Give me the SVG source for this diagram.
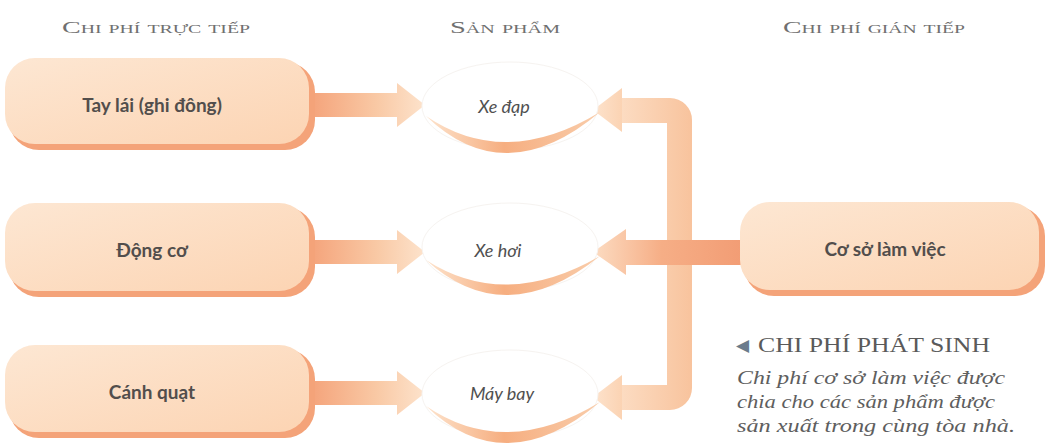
<svg xmlns="http://www.w3.org/2000/svg" width="1050" height="446" viewBox="0 0 1050 446">
<style>
.hdr{font-family:"Liberation Serif",serif;font-variant:small-caps;fill:#707070;font-size:17px;text-anchor:middle}
.btxt{font-family:Lato,"Open Sans",sans-serif;font-weight:700;fill:#524e4c;font-size:19px;text-anchor:middle}
.etxt{font-family:Lato,"Open Sans",sans-serif;font-style:italic;fill:#505050;font-size:18px;text-anchor:middle}
.shadow{fill:#f4a379}
.box{fill:url(#boxFill)}
.ell{fill:#fff;stroke:#f6f3f0;stroke-width:1}
.cres{fill:url(#cresGrad)}
.cap{font-family:"Liberation Serif",serif;fill:#5a5a5a;font-size:20px}
.capi{font-family:"Liberation Serif",serif;font-style:italic;fill:#5e5e5e;font-size:19px}
</style>
<defs>
<linearGradient id="boxFill" x1="0" y1="0" x2="1" y2="1">
<stop offset="0" stop-color="#fde7d3"/>
<stop offset="1" stop-color="#fcd4b3"/>
</linearGradient>
<linearGradient id="arrowGrad" x1="0" y1="0" x2="1" y2="0">
<stop offset="0" stop-color="#f4a077"/>
<stop offset="0.6" stop-color="#f9c9a5"/>
<stop offset="1" stop-color="#fde3cc"/>
</linearGradient>
<linearGradient id="vGrad" x1="0" y1="0" x2="1" y2="0">
<stop offset="0" stop-color="#fcdcc2"/>
<stop offset="1" stop-color="#f8c39d"/>
</linearGradient>
<linearGradient id="midGrad" x1="1" y1="0" x2="0" y2="0">
<stop offset="0" stop-color="#f29c74"/>
<stop offset="0.55" stop-color="#f6ae86"/>
<stop offset="1" stop-color="#fcdcc2"/>
</linearGradient>
<linearGradient id="headGrad" x1="0" y1="0" x2="1" y2="0">
<stop offset="0" stop-color="#fde3cd"/>
<stop offset="1" stop-color="#fbd3b3"/>
</linearGradient>
<linearGradient id="cresGrad" x1="0" y1="0" x2="1" y2="0">
<stop offset="0" stop-color="#fde3cc"/>
<stop offset="0.45" stop-color="#f6ae80"/>
<stop offset="1" stop-color="#f9cdab"/>
</linearGradient>
</defs>
<rect width="1050" height="446" fill="#fff"/>

<g id="headers">
<text class="hdr" x="156" y="33" textLength="188" lengthAdjust="spacingAndGlyphs">Chi phí trực tiếp</text>
<text class="hdr" x="505" y="33" textLength="110" lengthAdjust="spacingAndGlyphs">Sản phẩm</text>
<text class="hdr" x="874" y="33" textLength="182" lengthAdjust="spacingAndGlyphs">Chi phí gián tiếp</text>
</g>

<g id="connectors">
<path d="M305,93 H397 V83 L425,105 L397,127 V117 H305 Z" fill="url(#arrowGrad)"/>
<path d="M305,240 H397 V230 L425,252 L397,274 V264 H305 Z" fill="url(#arrowGrad)"/>
<path d="M305,381 H397 V371 L425,393 L397,415 V405 H305 Z" fill="url(#arrowGrad)"/>
<path d="M620,98 H670 A22,22 0 0 1 692,120 V388 A22,22 0 0 1 670,410 H620 V385 H667 V123 H620 Z" fill="url(#vGrad)"/>
<polygon points="622,88 622,132 593,110" fill="url(#headGrad)"/>
<polygon points="622,375 622,420 593,397" fill="url(#headGrad)"/>
<path d="M745,240 H626 V229 L593,252 L626,275 V265 H745 Z" fill="url(#midGrad)"/>
</g>

<g id="node-tay-lai">
<rect class="shadow" x="9" y="62" width="306" height="88" rx="30"/>
<rect class="box" x="5" y="58" width="304" height="86" rx="30"/>
<text class="btxt" x="152" y="112">Tay lái (ghi đông)</text>
</g>
<g id="node-dong-co">
<rect class="shadow" x="9" y="207" width="306" height="90" rx="30"/>
<rect class="box" x="5" y="203" width="304" height="88" rx="30"/>
<text class="btxt" x="152" y="257">Động cơ</text>
</g>
<g id="node-canh-quat">
<rect class="shadow" x="9" y="349" width="306" height="89" rx="30"/>
<rect class="box" x="5" y="345" width="304" height="87" rx="30"/>
<text class="btxt" x="152" y="399">Cánh quạt</text>
</g>

<g id="node-xe-dap">
<ellipse class="ell" cx="510" cy="106" rx="88" ry="44"/>
<path class="cres" d="M426,116 Q505,192 600,112 Q505,170 426,116 Z"/>
<text class="etxt" x="504" y="113">Xe đạp</text>
</g>
<g id="node-xe-hoi">
<ellipse class="ell" cx="510" cy="247" rx="88" ry="44"/>
<path class="cres" d="M426,260 Q505,332 600,256 Q505,311 426,260 Z"/>
<text class="etxt" x="498" y="257">Xe hơi</text>
</g>
<g id="node-may-bay">
<ellipse class="ell" cx="510" cy="394" rx="88" ry="44"/>
<path class="cres" d="M426,406 Q505,482 600,402 Q505,460 426,406 Z"/>
<text class="etxt" x="502" y="400">Máy bay</text>
</g>

<g id="node-co-so">
<rect class="shadow" x="744" y="206" width="301" height="90" rx="30"/>
<rect class="box" x="740" y="202" width="299" height="88" rx="30"/>
<text class="btxt" x="885" y="256">Cơ sở làm việc</text>
</g>

<g id="caption">
<text x="736" y="351" font-family="DejaVu Sans,sans-serif" font-size="17" fill="#6b7b8b">◀</text>
<text class="cap" x="758" y="352" textLength="232" lengthAdjust="spacingAndGlyphs">CHI PHÍ PHÁT SINH</text>
<text class="capi" x="737" y="384" textLength="268" lengthAdjust="spacingAndGlyphs">Chi phí cơ sở làm việc được</text>
<text class="capi" x="737" y="408" textLength="258" lengthAdjust="spacingAndGlyphs">chia cho các sản phẩm được</text>
<text class="capi" x="737" y="432" textLength="278" lengthAdjust="spacingAndGlyphs">sản xuất trong cùng tòa nhà.</text>
</g>
</svg>
